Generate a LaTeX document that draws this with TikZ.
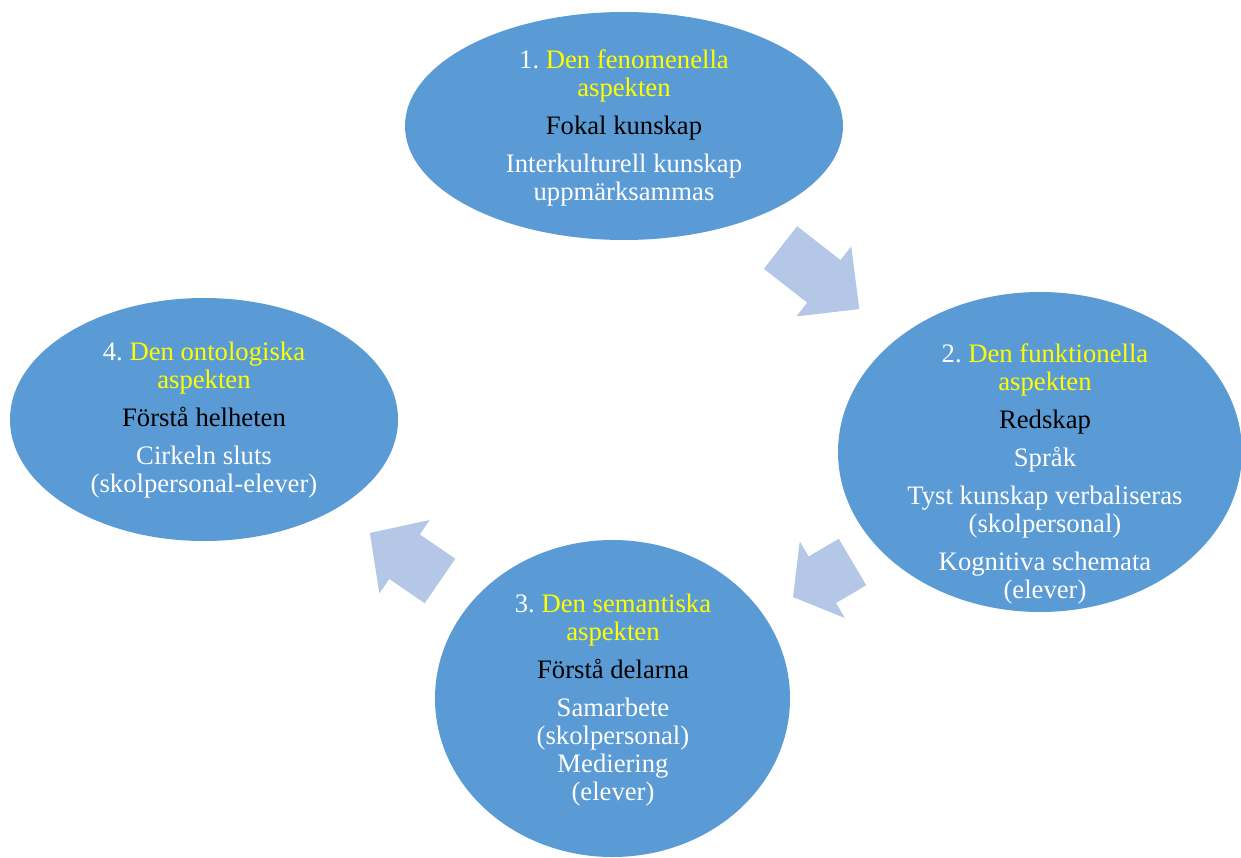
\documentclass[tikz,border=0pt]{standalone}
\usepackage{fontspec}
\setmainfont{Liberation Serif}
\usetikzlibrary{shapes.geometric}

\definecolor{aspblue}{HTML}{5B9BD5}
\definecolor{arrowblue}{HTML}{B4C7E7}
\definecolor{headyellow}{HTML}{FFFF00}

\tikzset{
  aspect/.style={ellipse, fill=aspblue, inner sep=0pt},
  aspecttext/.style={text=white, align=center, inner sep=0pt,
    font=\fontsize{12}{12.6}\selectfont\frenchspacing},
}

% block arrow: tail middle (#1,#2), direction #3, shaft length #4, head length #5
\newcommand{\blockarrow}[5]{%
  \fill[arrowblue, shift={(#1,#2)}, rotate=#3]
    (0,-27) -- (#4,-27) -- (#4,-44.5) -- (#4+#5,0) -- (#4,44.5) -- (#4,27) -- (0,27) -- cycle;}

\newcommand{\yel}[1]{\textcolor{headyellow}{#1}}
\newcommand{\blk}[1]{\textcolor{black}{#1}}

\begin{document}
\begin{tikzpicture}[x=0.45pt, y=0.45pt]
\useasboundingbox (0,0) rectangle (1241,857);

% the four aspects
\node[aspect, minimum width=197.1pt, minimum height=102.6pt] (fen) at (624,731) {};
\node[aspect, minimum width=181.8pt, minimum height=144pt] (fun) at (1040,405) {};
\node[aspect, minimum width=159.75pt, minimum height=142.65pt] (sem) at (612.5,158.5) {};
\node[aspect, minimum width=174.6pt, minimum height=109.35pt] (ont) at (204,437.5) {};

% arrows between them
\blockarrow{780.5}{609.5}{-38}{55}{45}
\blockarrow{852.5}{295}{210.5}{35}{34}
\blockarrow{440}{276}{145.6}{43}{42}

% texts
\node[aspecttext] (fen text) at (624,729) {1. \yel{Den fenomenella}\\\yel{aspekten}\\[4.5pt]
  \blk{Fokal kunskap}\\[4.5pt]
  Interkulturell kunskap\\uppmärksammas};
\node[aspecttext] (fun text) at (1045,383) {2. \yel{Den funktionella}\\\yel{aspekten}\\[4.5pt]
  \blk{Redskap}\\[4.5pt]
  Språk\\[4.5pt]
  Tyst kunskap verbaliseras\\(skolpersonal)\\[4.5pt]
  Kognitiva schemata\\(elever)};
\node[aspecttext] (sem text) at (613,157) {3. \yel{Den semantiska}\\\yel{aspekten}\\[4.5pt]
  \blk{Förstå delarna}\\[4.5pt]
  Samarbete\\(skolpersonal)\\Mediering\\(elever)};
\node[aspecttext] (ont text) at (204,436.5) {4. \yel{Den ontologiska}\\\yel{aspekten}\\[4.5pt]
  \blk{Förstå helheten}\\[4.5pt]
  Cirkeln sluts\\(skolpersonal-elever)};
\end{tikzpicture}
\end{document}
